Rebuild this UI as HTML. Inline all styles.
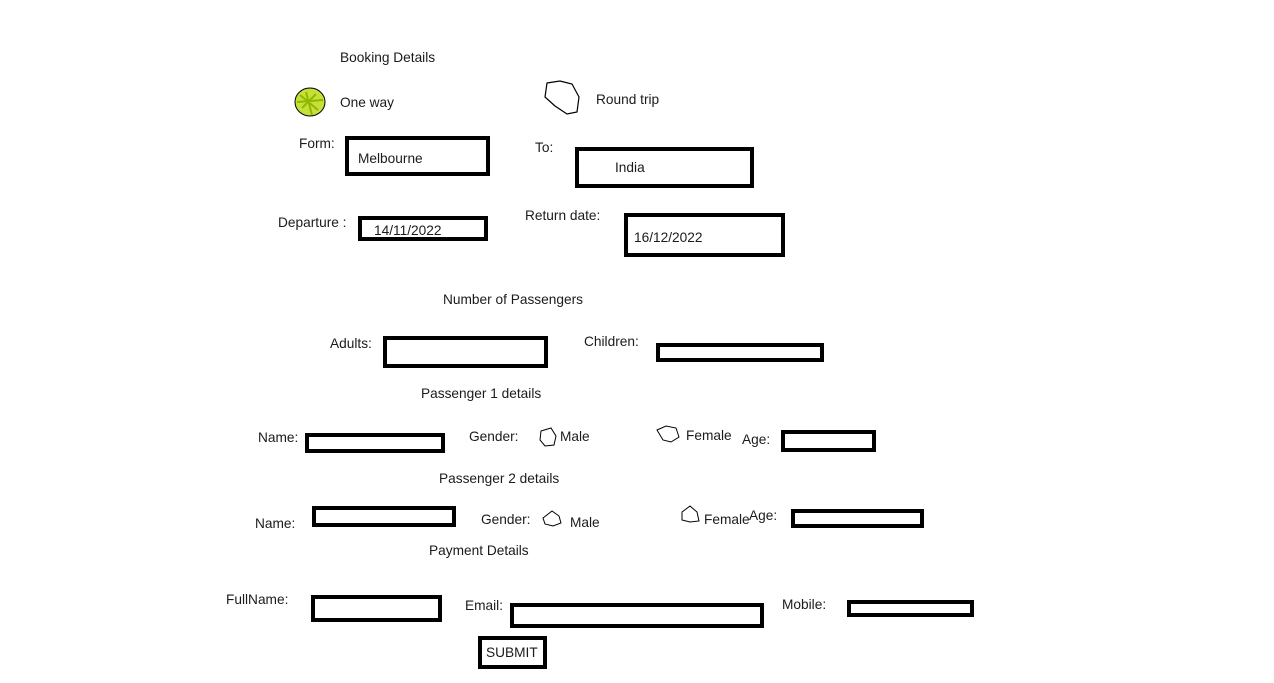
<!DOCTYPE html>
<html><head><meta charset="utf-8"><style>
body{margin:0;width:1274px;height:683px;background:#fff;position:relative;overflow:hidden;font-family:"Liberation Sans",Arial,sans-serif;font-size:13.7px;color:#1b1b1b}
.t{position:absolute;line-height:16px;white-space:nowrap;margin-top:1px}
.b{position:absolute;border:4px solid #000;box-sizing:border-box;background:#fff}
svg{position:absolute;left:0;top:0}
</style></head><body>
<svg width="1274" height="683">
<ellipse cx="310" cy="102" rx="15" ry="14" fill="#c6e03a" stroke="#000" stroke-width="1"/>
<path d="M300 95 L318 110 M302 108 L316 94 M306 92 L312 115 M297 102 L323 100" stroke="#8fb800" stroke-width="2" fill="none"/>
<path d="M547 83 L560 81 L572 84 L579 97 L577 112 L567 114 L555 106 L545 97 Z" fill="none" stroke="#000" stroke-width="1.2"/>
<path d="M541 431 L551 428 L556 436 L554 445 L545 446 L540 440 Z" fill="none" stroke="#000" stroke-width="1"/>
<path d="M657 430 L666 426 L676 428 L679 437 L671 442 L663 440 Z" fill="none" stroke="#000" stroke-width="1"/>
<path d="M543 518 L552 511 L559 516 L561 523 L553 526 L545 524 Z" fill="none" stroke="#000" stroke-width="1"/>
<path d="M682 512 L690 506 L697 512 L699 521 L690 522 L682 520 Z" fill="none" stroke="#000" stroke-width="1"/>
</svg>
<div class="t" style="left:340px;top:49px">Booking Details</div>
<div class="t" style="left:340px;top:94px">One way</div>
<div class="t" style="left:596px;top:91px">Round trip</div>
<div class="t" style="left:299px;top:135px">Form:</div>
<div class="b" style="left:345px;top:136px;width:145px;height:40px"></div>
<div class="t" style="left:358px;top:150px">Melbourne</div>
<div class="t" style="left:535px;top:139px">To:</div>
<div class="b" style="left:575px;top:147px;width:179px;height:41px"></div>
<div class="t" style="left:615px;top:159px">India</div>
<div class="t" style="left:278px;top:214px">Departure :</div>
<div class="b" style="left:358px;top:216px;width:130px;height:25px"></div>
<div class="t" style="left:374px;top:222px">14/11/2022</div>
<div class="t" style="left:525px;top:207px">Return date:</div>
<div class="b" style="left:624px;top:213px;width:161px;height:44px"></div>
<div class="t" style="left:634px;top:229px">16/12/2022</div>
<div class="t" style="left:443px;top:291px">Number of Passengers</div>
<div class="t" style="left:330px;top:335px">Adults:</div>
<div class="b" style="left:383px;top:336px;width:165px;height:32px"></div>
<div class="t" style="left:584px;top:333px">Children:</div>
<div class="b" style="left:656px;top:343px;width:168px;height:19px"></div>
<div class="t" style="left:421px;top:385px">Passenger 1 details</div>
<div class="t" style="left:258px;top:429px">Name:</div>
<div class="b" style="left:305px;top:433px;width:140px;height:20px"></div>
<div class="t" style="left:469px;top:428px">Gender:</div>
<div class="t" style="left:560px;top:428px">Male</div>
<div class="t" style="left:686px;top:427px">Female</div>
<div class="t" style="left:742px;top:431px">Age:</div>
<div class="b" style="left:781px;top:430px;width:95px;height:22px"></div>
<div class="t" style="left:439px;top:470px">Passenger 2 details</div>
<div class="t" style="left:255px;top:515px">Name:</div>
<div class="b" style="left:312px;top:506px;width:144px;height:21px"></div>
<div class="t" style="left:481px;top:511px">Gender:</div>
<div class="t" style="left:570px;top:514px">Male</div>
<div class="t" style="left:704px;top:511px">Female</div>
<div class="t" style="left:749px;top:507px">Age:</div>
<div class="b" style="left:791px;top:509px;width:133px;height:19px"></div>
<div class="t" style="left:429px;top:542px">Payment Details</div>
<div class="t" style="left:226px;top:591px">FullName:</div>
<div class="b" style="left:311px;top:595px;width:131px;height:27px"></div>
<div class="t" style="left:465px;top:597px">Email:</div>
<div class="b" style="left:510px;top:603px;width:254px;height:25px"></div>
<div class="t" style="left:782px;top:596px">Mobile:</div>
<div class="b" style="left:847px;top:600px;width:127px;height:17px"></div>
<div class="b" style="left:478px;top:636px;width:69px;height:33px"></div>
<div class="t" style="left:486px;top:644px">SUBMIT</div>
</body></html>
